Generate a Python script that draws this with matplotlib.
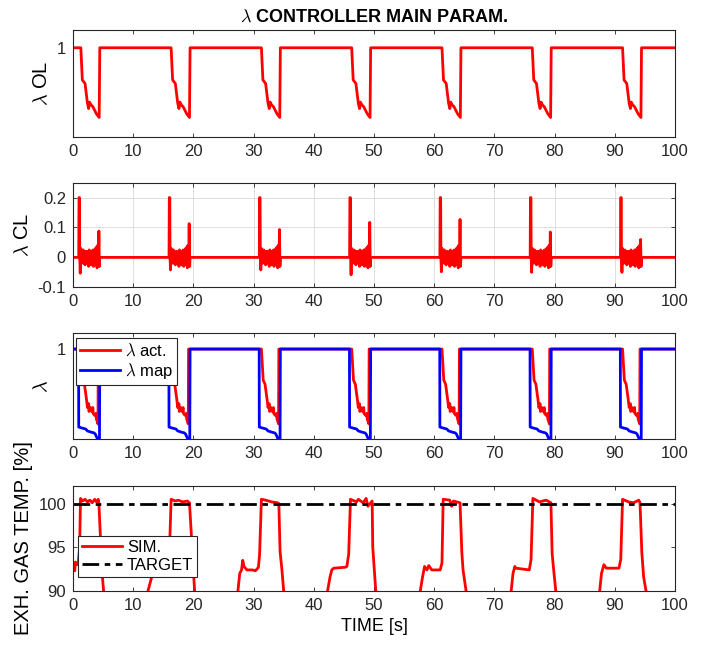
import numpy as np
import matplotlib
matplotlib.use("Agg")
import matplotlib.pyplot as plt

plt.rcParams['font.family'] = ['Liberation Sans', 'DejaVu Sans']
plt.rcParams['font.size'] = 12
plt.rcParams['mathtext.fontset'] = 'cm'

# start of each load cycle [s]
cycle_start = [1.3, 16.3, 31.3, 46.3, 61.3, 76.3, 91.3]

# open-loop lambda over one cycle (time after cycle start)
ol_dt = [0.0, 0.25, 0.7, 1.1, 1.3, 1.45, 1.7, 2.0, 2.6, 3.05, 3.15]
ol_val = [1.0, 0.91, 0.90, 0.845, 0.83, 0.848, 0.84, 0.835, 0.815, 0.805, 1.0]

# closed-loop correction: lean spike, then a noisy burst with a late spike
cl_spike_dt = [-0.35, -0.3, -0.22, -0.18]
cl_spike_val = [0.0, 0.2, 0.2, 0.0]
cl_burst_dt = [0.0, 0.1, 0.2, 0.3, 0.4, 0.5, 0.6, 0.7, 0.8, 0.9, 1.0, 1.1, 1.2,
               1.3, 1.4, 1.5, 1.6, 1.7, 1.8, 1.9, 2.0, 2.1, 2.2, 2.3, 2.4, 2.5,
               2.6, 2.7, 2.8, 2.9]
cl_burst_val = [0.03, -0.02, 0.02, -0.01, 0.025, -0.02, 0.015, -0.025, 0.02,
                -0.01, 0.02, -0.02, 0.01, -0.03, 0.025, -0.015, 0.02, -0.025,
                0.015, -0.02, 0.025, -0.03, 0.02, -0.015, 0.03, -0.025, 0.035,
                -0.035, 0.04, -0.03]
cl_dip = [-0.053, -0.042, -0.042, -0.058, -0.048, -0.05, -0.05]
cl_peak = [0.088, 0.113, 0.093, 0.117, 0.127, 0.085, 0.06]

# actual lambda and mapped lambda over one cycle
act_dt = [0.0, 0.3, 0.6, 0.95, 1.1, 1.3, 1.35, 1.6, 1.8, 2.0, 2.05, 2.3, 2.5,
          2.6, 2.85, 2.9]
act_val = [1.0, 0.92, 0.91, 0.87, 0.85, 0.86, 0.84, 0.85, 0.84, 0.85, 0.835,
           0.83, 0.835, 0.82, 0.808, 1.0]
map_dt = [-0.37, -0.35, 0.3, 0.8, 1.1, 1.7, 2.2, 2.4, 2.75, 3.1, 3.15]
map_val = [1.0, 0.80, 0.797, 0.795, 0.79, 0.787, 0.785, 0.782, 0.77, 0.77, 1.0]

# exhaust gas temperature, simulated
sim_time = [0, 0.3, 0.4, 0.7, 0.9, 1.1, 1.25, 1.6, 2.0, 2.4, 2.8, 3.2, 3.6,
            3.9, 4.2, 4.3, 4.6, 4.9, 5.2, 6.0, 11.5,
            12.46, 13.0, 13.5, 15.8, 16.0, 16.3, 17.0, 17.5, 18.2, 19.0,
            19.35, 19.8, 20.2, 20.8, 26.5,
            27.4, 27.7, 28.0, 28.2, 28.4, 28.9, 29.8, 30.3, 30.8, 31.0, 31.3,
            32.0, 33.0, 34.0, 34.2, 34.4, 34.7, 35.0, 35.6, 41.5,
            42.3, 42.7, 43.0, 43.3, 45.2, 45.5, 45.8, 46.1, 47.1, 47.4, 48.2,
            48.7, 49.0, 49.7, 49.8, 50.3, 50.9, 57.0,
            57.7, 58.0, 58.4, 58.8, 59.1, 59.6, 61.0, 61.3, 61.5, 62.6, 62.9,
            63.2, 64.3, 64.6, 64.8, 65.3, 65.9, 72.2,
            72.8, 73.1, 73.4, 73.6, 75.8, 76.1, 76.4, 77.5, 78.6, 79.4, 79.6,
            79.8, 80.2, 80.8, 87.0,
            87.5, 87.8, 88.2, 88.6, 90.7, 91.0, 91.3, 92.3, 93.1, 94.0, 94.2,
            94.5, 94.8, 95.2, 95.8, 100]
sim_temp = [92.5, 92.3, 93.3, 93.0, 93.4, 95.0, 100.6, 100.3, 100.5, 100.2,
            100.4, 100.1, 100.5, 100.2, 100.5, 100.0, 95.5, 91.5, 89.0, 86.5, 86.5,
            90.0, 91.4, 92.5, 92.8, 94.0, 100.5, 100.3, 100.4, 100.2, 100.3,
            100.1, 94.8, 90.0, 86.5, 86.5,
            90.0, 92.0, 92.4, 93.5, 92.8, 92.4, 92.4, 92.3, 92.7, 94.2, 100.5,
            100.4, 100.2, 100.1, 100.0, 94.5, 92.5, 90.0, 86.5, 86.5,
            90.0, 91.6, 92.4, 92.6, 92.7, 92.8, 94.2, 100.5, 100.2, 100.5, 100.1,
            100.6, 99.7, 100.3, 95.0, 90.0, 86.5, 86.5,
            90.0, 91.3, 92.8, 92.4, 92.9, 92.4, 92.4, 93.2, 100.5, 100.4, 99.7,
            100.3, 100.1, 94.4, 92.4, 90.0, 86.5, 86.5,
            90.0, 92.0, 92.8, 92.6, 92.4, 93.6, 100.6, 100.2, 100.4, 100.1, 94.3,
            92.8, 90.0, 86.5, 86.5,
            90.0, 92.0, 93.0, 92.6, 92.6, 93.6, 100.5, 100.2, 100.1, 100.4, 100.1,
            94.4, 91.6, 90.0, 86.5, 86.5]
target_temp = 100.0

x_ticks = np.arange(0, 101, 10)
label_size = 14.5


def cycles(base, dt, val):
    t, y = [0.0], [base]
    for c in cycle_start:
        t += [c + d for d in dt]
        y += list(val)
    return t + [100.0], y + [base]


def style(ax):
    ax.set_xlim(0, 100)
    ax.set_xticks(x_ticks)
    ax.tick_params(direction='in', top=True, right=True, length=3,
                   width=0.6, pad=5, colors='#262626', labelsize=12)
    for s in ax.spines.values():
        s.set_color('#262626')
        s.set_linewidth(0.8)


t_ol, y_ol = cycles(1.0, ol_dt, ol_val)

t_cl, y_cl = [0.0], [0.0]
for c, dip, peak in zip(cycle_start, cl_dip, cl_peak):
    t_cl += [c + d for d in cl_spike_dt] + [c - 0.1]
    y_cl += cl_spike_val + [dip]
    t_cl += [c + d for d in cl_burst_dt] + [c + 3.0, c + 3.08, c + 3.15]
    y_cl += cl_burst_val + [peak, -0.03, 0.0]
t_cl.append(100.0)
y_cl.append(0.0)

t_act, y_act = cycles(1.0, act_dt, act_val)
t_map, y_map = cycles(1.0, map_dt, map_val)

fig = plt.figure(figsize=(7.04, 6.5), dpi=100)
left, width = 0.1037, 0.855
ax1 = fig.add_axes([left, 0.789, width, 0.165])
ax2 = fig.add_axes([left, 0.558, width, 0.161])
ax3 = fig.add_axes([left, 0.325, width, 0.162])
ax4 = fig.add_axes([left, 0.091, width, 0.161])

ax1.plot(t_ol, y_ol, color='red', lw=2)
ax1.set_ylim(0.75, 1.05)
ax1.set_yticks([1])
ax1.set_yticklabels(['1'])
ax1.set_ylabel(r'$\lambda$ OL', fontsize=label_size)
ax1.set_title(r'$\lambda$ CONTROLLER MAIN PARAM.', fontweight='bold',
              fontsize=13, pad=6)
style(ax1)

ax2.plot(t_cl, y_cl, color='red', lw=2)
ax2.set_ylim(-0.1, 0.25)
ax2.set_yticks([-0.1, 0, 0.1, 0.2])
ax2.set_yticklabels(['-0.1', '0', '0.1', '0.2'])
ax2.set_ylabel(r'$\lambda$ CL', fontsize=label_size)
ax2.grid(True, color='#dedede', lw=0.7)
ax2.set_axisbelow(True)
style(ax2)

ax3.plot(t_act, y_act, color='red', lw=2, label=r'$\lambda$ act.')
ax3.plot(t_map, y_map, color='blue', lw=2, label=r'$\lambda$ map')
ax3.set_ylim(0.77, 1.04)
ax3.set_yticks([1])
ax3.set_yticklabels(['1'])
ax3.set_ylabel(r'$\lambda$', fontsize=label_size)
style(ax3)
leg3 = ax3.legend(loc='upper left', bbox_to_anchor=(0.005, 0.955),
                  borderaxespad=0, fancybox=False, framealpha=1,
                  edgecolor='#262626', handlelength=2.4, handletextpad=0.3,
                  labelspacing=0.15, borderpad=0.25, fontsize=12)
leg3.get_frame().set_linewidth(0.8)

ax4.plot(sim_time, sim_temp, color='red', lw=2, label='SIM.')
ax4.axhline(target_temp, color='black', lw=2, ls='-.', dashes=(6, 2, 2, 2),
            label='TARGET')
ax4.set_ylim(90, 102)
ax4.set_yticks([90, 95, 100])
ax4.set_ylabel('EXH. GAS TEMP. [%]', fontsize=label_size)
ax4.set_xlabel('TIME [s]', fontsize=13)
style(ax4)
leg4 = ax4.legend(loc='lower left', bbox_to_anchor=(0.008, 0.133),
                  borderaxespad=0, fancybox=False, framealpha=1,
                  edgecolor='#262626', handlelength=2.4, handletextpad=0.3,
                  labelspacing=0.15, borderpad=0.25, fontsize=12)
leg4.get_frame().set_linewidth(0.8)

fig.savefig('out.png', dpi=100)
